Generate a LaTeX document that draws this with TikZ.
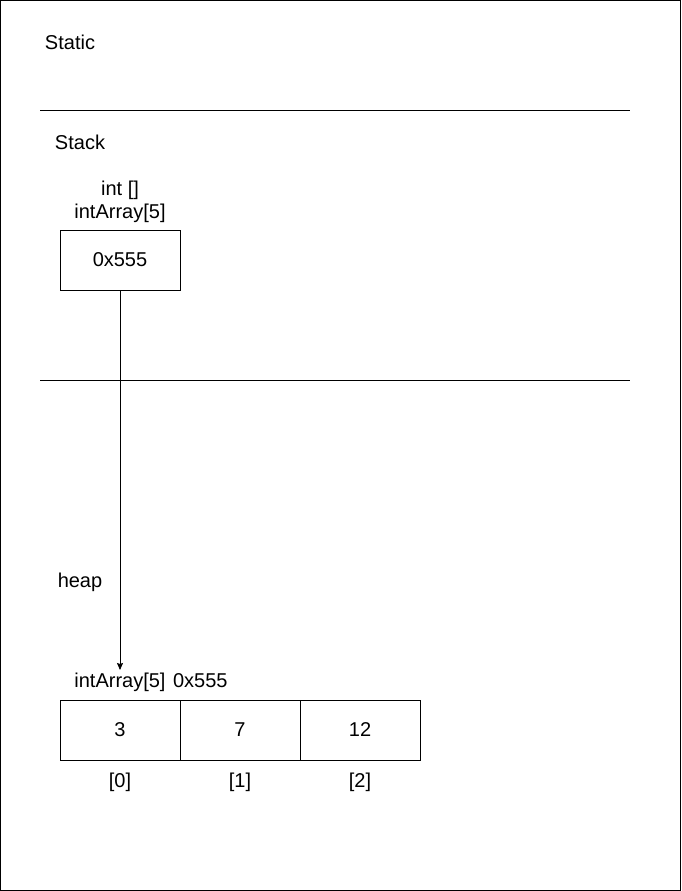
\documentclass[tikz,border=0pt]{standalone}
\usepackage{fontspec}
\setmainfont{Liberation Sans}
\usetikzlibrary{arrows.meta}
\begin{document}
\begin{tikzpicture}[x=1pt,y=-1pt,
  lbl/.style={inner sep=0pt,font=\fontsize{20}{24}\selectfont},
  cell/.style={draw,line width=0.8pt,minimum width=120pt,minimum height=60pt,inner sep=0pt,font=\fontsize{20}{24}\selectfont},
  sep/.style={line width=0.8pt}]
\useasboundingbox (0,0) rectangle (681,891);
\draw[line width=0.8pt] (0.5,0.5) rectangle (680.5,890.5);
\node[lbl] (static) at (70,42) {Static};
\coordinate (s1a) at (40,110); \coordinate (s1b) at (630,110);
\draw[sep] (s1a) -- (s1b);
\node[lbl] (stack) at (80,142) {Stack};
\node[lbl] (t1) at (120,190) {int []};
\node[lbl] (t2) at (120,213) {intArray[5]};
\node[cell] (ptr) at (120,260) {\raisebox{-1pt}{0x555}};
\coordinate (s2a) at (40,380); \coordinate (s2b) at (630,380);
\draw[sep] (s2a) -- (s2b);
\node[lbl] (heap) at (80,582) {heap};
\node[lbl] (arrlbl) at (151,682) {intArray[5]\hspace{2pt} 0x555};
\node[cell] (c0) at (120,730) {\raisebox{-1pt}{3}};
\node[cell] (c1) at (240,730) {\raisebox{-1pt}{7}};
\node[cell] (c2) at (360,730) {\raisebox{-1pt}{12}};
\node[lbl] (i0) at (120,782) {[0]};
\node[lbl] (i1) at (240,782) {[1]};
\node[lbl] (i2) at (360,782) {[2]};
\coordinate (tip) at (120,670);
\draw[line width=0.8pt,-{Stealth[length=7pt,width=6pt,inset=1pt]}] (ptr.south) -- (tip);
\end{tikzpicture}
\end{document}
